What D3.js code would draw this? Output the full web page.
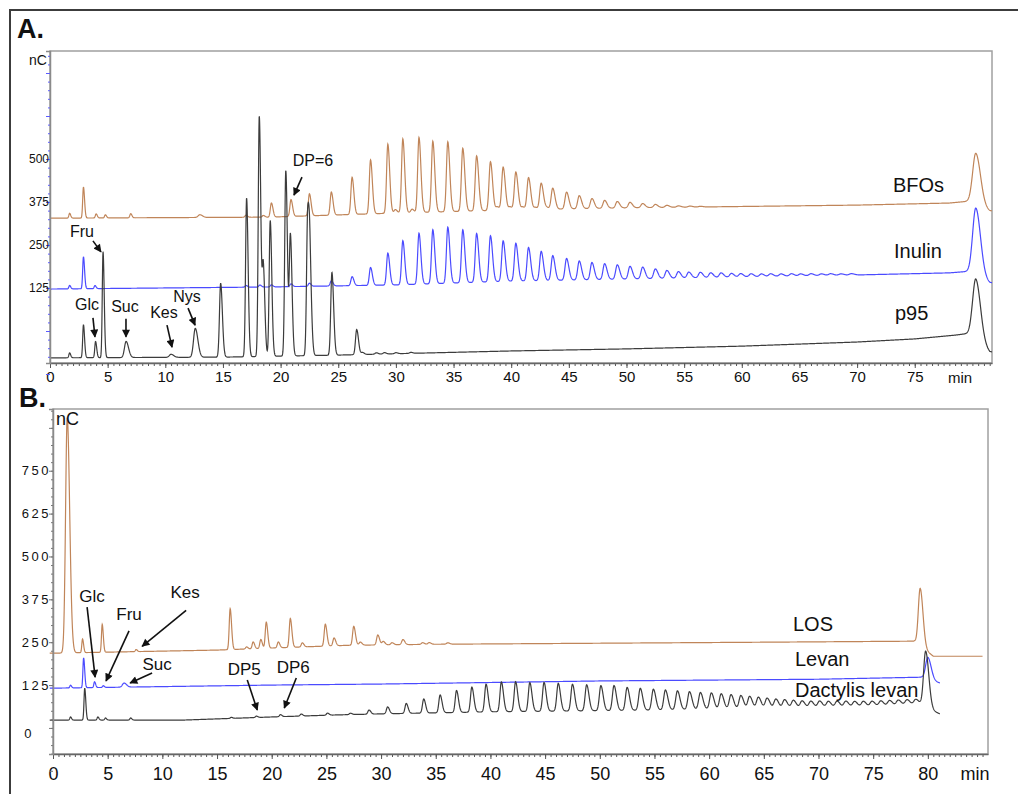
<!DOCTYPE html>
<html>
<head>
<meta charset="utf-8">
<script src="https://cdn.jsdelivr.net/npm/d3@7"></script>
<style>
  body { margin: 0; background: #fff; }
  text { font-family: "Liberation Sans", Arial, sans-serif; fill: #111; }
</style>
</head>
<body>
<svg id="chart" width="1018" height="794"></svg>
<script>
// ---- data: [retention time (min), peak height (nC), optional width] ----

// panel A
const bfoPeaks = [[1.7, 14], [2.9, 90], [4.0, 12], [4.8, 9], [7.0, 12], [13.0, 8, 0.15], [17.0, 6], [18.5, 5],
  [19.2, 41], [20.9, 49], [22.5, 64], [24.4, 67], [26.2, 108], [27.8, 157], [29.3, 201], [29.95, 10],
  [30.6, 215], [31.4, 10], [32.0, 218], [33.2, 206], [34.5, 203], [35.8, 183], [37.0, 160], [38.2, 142],
  [38.8, 10], [39.3, 125], [39.9, 9], [40.4, 110], [41.0, 8], [41.5, 93], [42.1, 6], [42.6, 76], [43.1, 5],
  [43.6, 61], [44.8, 49], [45.9, 38], [47.0, 29], [48.1, 23], [49.2, 19], [50.3, 16], [51.4, 12], [52.5, 9],
  [53.5, 6], [54.5, 4], [55.5, 3], [56.4, 2], [80.3, 146, 0.27]]
const bfoBaseT = [0, 19, 30, 40, 50, 60, 70, 78, 79.9, 81.5]
const bfoBaseV = [328, 331, 343, 352, 358, 362, 366, 372, 378, 349]

const inulinPeaks = [[1.7, 10], [2.9, 93], [3.9, 9], [17.0, 5], [18.2, 6], [19.2, 6], [20.9, 8], [22.5, 9],
  [24.4, 15], [26.2, 26], [27.8, 52], [29.3, 93], [30.6, 128], [32.0, 148], [33.2, 157], [34.5, 163],
  [35.8, 154], [37.0, 142], [38.2, 134], [39.3, 118], [40.4, 110], [41.5, 97], [42.6, 85], [43.6, 72],
  [44.8, 63], [45.9, 55], [47.0, 50], [48.1, 46], [49.2, 42], [50.3, 37], [51.4, 34], [52.5, 28], [53.5, 23],
  [54.5, 19], [55.4, 17], [56.4, 16], [57.3, 14], [58.2, 13], [59.1, 11], [59.9, 10], [60.8, 9], [61.7, 8],
  [62.5, 8], [63.4, 7], [64.3, 7], [65.1, 6], [66.0, 6], [66.9, 5], [67.7, 5], [68.6, 4], [69.5, 4],
  [80.3, 192, 0.27]]
const inulinBaseT = [0, 19, 30, 40, 50, 60, 70, 78, 79.9, 81.5]
const inulinBaseV = [122, 128, 134, 145, 151, 157, 163, 169, 174, 140]

const p95Peaks = [[1.7, 14], [2.9, 96], [3.95, 47], [4.6, 308], [6.6, 47, 0.14], [10.5, 9, 0.15],
  [12.6, 84, 0.15], [14.8, 215, 0.1], [17.05, 462], [18.15, 700], [18.5, 256], [19.1, 395], [20.45, 540],
  [20.85, 349], [22.35, 410], [22.55, 200], [24.45, 241], [26.6, 73], [27.1, 6], [28.3, 4], [29.0, 4],
  [30.0, 3], [31.3, 3], [80.3, 171, 0.27]]
const p95BaseT = [0, 15, 25, 40, 50, 60, 70, 75, 78.5, 79.9, 81.5]
const p95BaseV = [-78, -76, -70, -58, -52, -44, -32, -23, -12, -6, -61]

// panel B
const losPeaks = [[1.3, 686, 0.15], [2.7, 40], [4.5, 81], [7.6, 6], [16.2, 119], [17.7, 6], [18.3, 20],
  [19.0, 26], [19.5, 76], [20.6, 17], [21.7, 84], [22.8, 12], [24.9, 64], [25.7, 23], [27.5, 55], [28.1, 9],
  [29.7, 29], [30.2, 10], [31.0, 6], [32.0, 15], [33.8, 5], [34.4, 5], [36.1, 4], [79.3, 167, 0.17]]
const losBaseT = [0, 10, 15, 20, 27, 35, 50, 65, 78.8, 80.5, 85]
const losBaseV = [218, 224, 227, 233, 241, 244, 247, 250, 253, 209, 209]

const levanPeaks = [[1.6, 8], [2.8, 87], [3.8, 17], [4.6, 5], [6.5, 12, 0.15], [80.0, 63, 0.2]]
const levanBaseT = [0, 20, 30, 50, 70, 79.5, 81.1]
const levanBaseV = [116, 125, 128, 137, 142, 148, 131]

const dactylisPeaks = [[1.6, 9], [2.9, 93], [4.1, 9], [4.8, 6], [7.1, 6], [16.3, 3], [18.6, 4], [20.8, 6],
  [22.7, 6], [25.1, 6], [27.2, 4], [28.9, 12], [30.6, 20], [32.3, 29], [33.9, 41], [35.4, 52], [36.9, 64],
  [38.3, 73], [39.6, 81], [41.0, 87], [42.3, 87], [43.6, 84], [44.9, 84], [46.2, 81], [47.5, 78], [48.8, 76],
  [50.1, 73], [51.3, 73], [52.5, 67], [53.7, 64], [54.9, 61], [56.0, 58], [57.1, 55], [58.2, 52], [59.2, 49],
  [60.2, 47], [61.1, 44], [62.0, 41], [62.9, 38], [63.7, 35], [64.5, 32], [65.3, 29], [66.1, 26], [66.9, 24],
  [67.7, 22], [68.5, 20], [69.3, 19], [70.1, 19], [70.9, 18], [71.7, 18], [72.5, 18], [73.3, 17], [74.1, 17],
  [74.9, 17], [75.7, 17], [76.5, 17], [77.3, 17], [78.1, 17], [78.9, 17], [79.8, 164, 0.19]]
const dactylisBaseT = [0, 12, 20, 26, 30, 40, 55, 65, 75, 79.3, 81.1]
const dactylisBaseV = [23, 23, 32, 38, 41, 47, 52, 58, 61, 67, 41]

// axis ticks
const xLabelsA = [0, 5, 10, 15, 20, 25, 30, 35, 40, 45, 50, 55, 60, 65, 70, 75]
const xLabelsB = [0, 5, 10, 15, 20, 25, 30, 35, 40, 45, 50, 55, 60, 65, 70, 75, 80]
const yLabelsA = [125, 250, 375, 500]
const yLabelsB = [0, 125, 250, 375, 500, 625, 750]

const brown = '#c08559', blue = '#4b4bff', black = '#3c3c3c'

const svg = d3.select('#chart')

// arrow head
svg.append('defs').append('marker')
    .attr('id', 'arrow')
    .attr('viewBox', '0 0 10 10')
    .attr('refX', 9).attr('refY', 5)
    .attr('markerWidth', 9).attr('markerHeight', 8)
    .attr('markerUnits', 'userSpaceOnUse')
    .attr('orient', 'auto')
    .append('path').attr('d', 'M0,0 L10,5 L0,10 z').attr('fill', '#111')

// outer frame (cut by the right and bottom edge of the picture)
svg.append('rect')
    .attr('x', 10).attr('y', 10).attr('width', 1030).attr('height', 800)
    .attr('fill', 'none').attr('stroke', '#3c3c3c').attr('stroke-width', 2)

// sum of (slightly tailing) gaussian peaks on top of a drifting baseline
function trace(peaks, baseT, baseV, t0, t1) {
    const base = d3.scaleLinear().domain(baseT).range(baseV).clamp(true)
    const pts = []
    for (let t = t0; t <= t1 + 1e-9; t += 0.02) {
        let v = base(t)
        peaks.forEach(p => {
            const s = p[2] || (0.06 + 0.0016 * p[0])
            const d = t - p[0]
            const sd = d < 0 ? s : s * 1.5
            if (Math.abs(d) < sd * 6) v += p[1] * Math.exp(-0.5 * d * d / (sd * sd))
        })
        pts.push([t, v])
    }
    return pts
}

function drawPanel(p) {
    const g = svg.append('g')
    const x = d3.scaleLinear().domain(p.xDomain).range([p.left, p.right])
    const y = d3.scaleLinear().domain(p.yDomain).range([p.bottom, p.top])

    g.append('clipPath').attr('id', p.id + '-clip')
        .append('rect').attr('x', p.left - 4).attr('y', p.top).attr('width', p.right - p.left + 4).attr('height', p.bottom - p.top)

    g.append('rect')
        .attr('x', p.left).attr('y', p.top)
        .attr('width', p.right - p.left).attr('height', p.bottom - p.top)
        .attr('fill', 'none').attr('stroke', '#a0a0a0').attr('stroke-width', 1.5)

    // traces
    const line = d3.line().x(d => x(d[0])).y(d => y(d[1]))
    p.series.forEach(s => {
        g.append('path')
            .datum(trace(s.peaks, s.baseT, s.baseV, s.start, s.end))
            .attr('d', line)
            .attr('fill', 'none')
            .attr('stroke', s.color)
            .attr('stroke-width', 1.2)
            .attr('clip-path', `url(#${p.id}-clip)`)
        g.append('text')
            .attr('x', s.lx).attr('y', s.ly)
            .style('font-size', '20px')
            .text(s.name)
    })

    // x axis: minor ticks every 0.5 min, labelled ticks every 5 min
    g.append('g')
        .attr('transform', `translate(0,${p.bottom})`)
        .call(d3.axisBottom(x).tickValues(d3.range(0, p.xDomain[1], 0.5)).tickSize(3).tickFormat(''))
        .call(a => a.select('.domain').remove())
        .selectAll('line').attr('stroke', '#555')
    const xa = g.append('g')
        .attr('transform', `translate(0,${p.bottom})`)
        .call(d3.axisBottom(x).tickValues(p.xLabels).tickSize(5).tickPadding(p.xPad).tickSizeOuter(0))
    xa.select('.domain').attr('stroke', '#666').attr('stroke-width', 1.5)
    xa.selectAll('line').attr('stroke', '#555')
    xa.selectAll('text').style('font-size', p.xFont + 'px').style('font-family', '"Liberation Sans", Arial, sans-serif').attr('fill', '#111')
    g.append('text')
        .attr('x', p.minX).attr('y', p.minY)
        .attr('text-anchor', 'middle')
        .style('font-size', p.minFont + 'px')
        .text('min')

    // y axis
    g.append('g')
        .attr('transform', `translate(${p.left},0)`)
        .call(d3.axisLeft(y).tickValues(d3.range(-75, p.yDomain[1], 25)).tickSize(2).tickFormat(''))
        .call(a => a.select('.domain').remove())
        .selectAll('line').attr('stroke', p.yTickColor)
    const ya = g.append('g')
        .attr('transform', `translate(${p.left},0)`)
        .call(d3.axisLeft(y).tickValues(d3.range(-125, p.yDomain[1], 125)).tickSize(4)
            .tickFormat(d => p.yLabels.includes(d) ? d : ''))
    ya.select('.domain').attr('stroke', '#8a8a8a').attr('stroke-width', 1.5)
    ya.selectAll('line').attr('stroke', p.yTickColor)
    ya.selectAll('text')
        .attr('x', p.yLabelX)
        .style('font-size', p.yFont + 'px')
        .style('letter-spacing', p.ySpacing + 'px')
        .style('font-family', '"Liberation Sans", Arial, sans-serif')
        .attr('fill', '#333')
    ya.selectAll('.tick').filter(d => d === 0).select('text')
        .attr('x', -24).attr('dy', '0.75em').attr('text-anchor', 'middle')

    // panel letter and unit
    svg.append('text')
        .attr('x', p.letterX).attr('y', p.letterY)
        .style('font-size', '27px').style('font-weight', 'bold')
        .text(p.letter)
    svg.append('text')
        .attr('x', p.ncX).attr('y', p.ncY)
        .style('font-size', p.ncFont + 'px')
        .text('nC')

    // peak annotations: arrow tip sits on the trace (time, nC), tail and label offset in pixels
    p.notes.forEach(n => {
        const tx = x(n.t), ty = y(n.v)
        g.append('line')
            .attr('x1', tx + n.dx).attr('y1', ty + n.dy)
            .attr('x2', tx).attr('y2', ty)
            .attr('stroke', '#111').attr('stroke-width', 1.6)
            .attr('marker-end', 'url(#arrow)')
        g.append('text')
            .attr('x', tx + n.lx).attr('y', ty + n.ly)
            .attr('text-anchor', 'middle')
            .style('font-size', p.noteFont + 'px')
            .text(n.text)
    })
}

drawPanel({
    id: 'A', letter: 'A.', letterX: 17, letterY: 38,
    left: 50, right: 992, top: 51, bottom: 363,
    xDomain: [0, 81.7], yDomain: [-93, 814],
    xLabels: xLabelsA, xPad: 3, xFont: 15, minX: 960, minY: 383, minFont: 15,
    yLabels: yLabelsA, yFont: 12, ySpacing: 0, yLabelX: -1, yTickColor: '#5a5aff',
    ncX: 29, ncY: 65, ncFont: 14, noteFont: 16,
    series: [
        { name: 'BFOs', peaks: bfoPeaks, baseT: bfoBaseT, baseV: bfoBaseV, start: 0, end: 81.7, color: brown, lx: 893, ly: 192 },
        { name: 'Inulin', peaks: inulinPeaks, baseT: inulinBaseT, baseV: inulinBaseV, start: 0, end: 81.7, color: blue, lx: 894, ly: 258 },
        { name: 'p95', peaks: p95Peaks, baseT: p95BaseT, baseV: p95BaseV, start: 0, end: 81.7, color: black, lx: 895, ly: 320 }
    ],
    notes: [
        { text: 'Fru', t: 4.42, v: 230, dx: -8, dy: -11, lx: -19, ly: -15 },
        { text: 'Glc', t: 3.9, v: -17, dx: -2, dy: -19, lx: -8, ly: -27 },
        { text: 'Suc', t: 6.59, v: -17, dx: 0, dy: -18, lx: -1, ly: -25 },
        { text: 'Kes', t: 10.58, v: -47, dx: -5, dy: -22, lx: -8, ly: -29 },
        { text: 'Nys', t: 12.58, v: 17, dx: -7, dy: -17, lx: -8, ly: -23 },
        { text: 'DP=6', t: 21.16, v: 395, dx: 8, dy: -18, lx: 19, ly: -29 }
    ]
})

drawPanel({
    id: 'B', letter: 'B.', letterX: 19, letterY: 407,
    left: 53, right: 988, top: 409, bottom: 754,
    xDomain: [0, 85.5], yDomain: [-76, 930],
    xLabels: xLabelsB, xPad: 8, xFont: 18, minX: 975, minY: 780, minFont: 18,
    yLabels: yLabelsB, yFont: 13, ySpacing: 2.5, yLabelX: -2, yTickColor: '#777',
    ncX: 56, ncY: 425, ncFont: 18, noteFont: 17,
    series: [
        { name: 'LOS', peaks: losPeaks, baseT: losBaseT, baseV: losBaseV, start: -0.3, end: 85, color: brown, lx: 793, ly: 631 },
        { name: 'Levan', peaks: levanPeaks, baseT: levanBaseT, baseV: levanBaseV, start: -0.3, end: 81.1, color: blue, lx: 795, ly: 666 },
        { name: 'Dactylis levan', peaks: dactylisPeaks, baseT: dactylisBaseT, baseV: dactylisBaseV, start: -0.3, end: 81.1, color: black, lx: 795, ly: 697 }
    ],
    notes: [
        { text: 'Glc', t: 3.85, v: 148, dx: -8, dy: -70, lx: -3, ly: -75 },
        { text: 'Fru', t: 4.85, v: 137, dx: 23, dy: -50, lx: 23, ly: -61 },
        { text: 'Kes', t: 8.15, v: 238, dx: 44, dy: -36, lx: 43, ly: -48 },
        { text: 'Suc', t: 7.05, v: 131, dx: 22, dy: -10, lx: 27, ly: -13 },
        { text: 'DP5', t: 18.68, v: 52, dx: -10, dy: -30, lx: -13, ly: -35 },
        { text: 'DP6', t: 21.15, v: 58, dx: 12, dy: -30, lx: 9, ly: -35 }
    ]
})
</script>
</body>
</html>
